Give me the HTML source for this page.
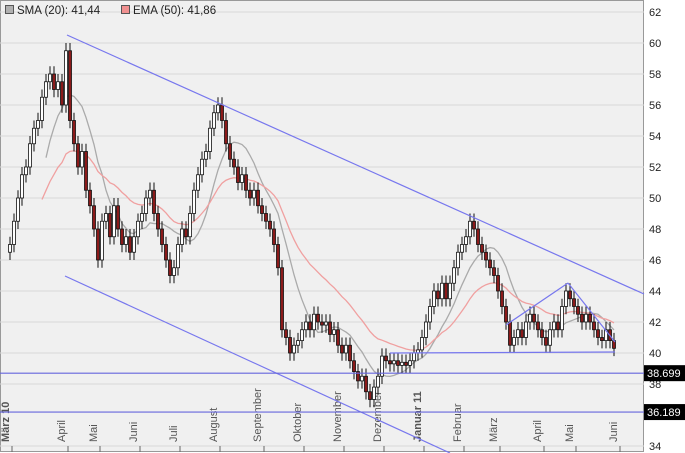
<!DOCTYPE html>
<html><head><meta charset="utf-8">
<style>
body{margin:0;background:#fff;font-family:"Liberation Sans",sans-serif;}
svg{display:block}
</style></head>
<body>
<svg id="chart" width="685" height="453" xmlns="http://www.w3.org/2000/svg" font-family="Liberation Sans, sans-serif">
<rect x="0" y="0" width="685" height="453" fill="#fff"/>
<rect x="0.5" y="0.5" width="643" height="451" fill="#f0f0f0" stroke="#999"/>
<g id="grid"></g><g id="xaxis"></g><g id="lines"></g><g id="candles"></g><g id="annot"></g><g id="yaxis"></g>
<g>
<rect x="5.5" y="5.5" width="8" height="8" fill="#b0b0b0" stroke="#555"/>
<text x="17" y="14" font-size="11.5" fill="#222">SMA (20): 41,44</text>
<rect x="121.5" y="5.5" width="8" height="8" fill="#f09090" stroke="#555"/>
<text x="133" y="14" font-size="11.5" fill="#222">EMA (50): 41,86</text>
</g>
</svg>
<script>
const closes=[47,48.5,50,51.5,52,53.5,54.5,55,56.5,57.5,58,57,57.5,56,59.5,55,53.5,52,53,50.5,49.5,48,46,48.5,49,47.5,49.5,48,47,47.5,46.5,47.5,48.5,49,50,50.5,49,48,47,46,45,45.5,47,48,47.5,49,50.5,51.5,52.5,53,54.5,55.5,56,55,53.5,52.5,52,51,51.5,50.5,50,50.5,49.5,49,48.5,48,47,45.5,41.5,41,40,40.5,40.8,41.5,42,41.5,42.5,42,41.8,42,41.2,41.5,40.5,40,40.5,39.5,38.8,38.2,38.5,37.5,37,37.8,38.5,39.8,39.5,39.3,39.5,39.2,39.4,39.2,39.5,40,40.2,41,42,43,44,43.5,44.5,43.5,44.5,45.5,46.5,47,47.5,48.5,48,47,46.5,46,45.5,45,44,43,42,40.5,41,41.5,41,42,42.5,42,41.5,41,40.5,41.5,42,41.5,43,44,43.5,43,42.5,42,42.5,42,41.5,41,40.8,41.5,40.8,40.3];
const firstOpen=46.5;
const monthLabels=["März 10","April","Mai","Juni","Juli","August","September","Oktober","November","Dezember","Januar 11","Februar","März","April","Mai","Juni"];
const monthIdx=[0,14,22,32,42,52,63,73,83,93,103,113,122,133,141,152];
const yTicks=[62,60,58,56,54,52,50,48,46,44,42,40,38,34];
const levels=[38.699,36.189];
const NS="http://www.w3.org/2000/svg";
const X=i=>10+i*4;
const Y=v=>12+(62-v)*15.5;
function mk(tag,attrs,parent){const e=document.createElementNS(NS,tag);for(const k in attrs)e.setAttribute(k,attrs[k]);parent.appendChild(e);return e;}
const g=id=>document.getElementById(id);
yTicks.forEach(v=>{
 const l=mk('line',{x1:0,x2:644,y1:Y(v),y2:Y(v),stroke:'#d8d8d8'},g('grid'));
 
 
 const t=mk('text',{x:649,y:Y(v)+4,'font-size':11,fill:'#222'},g('yaxis'));
 t.textContent=v;
 
 
});
monthLabels.forEach((m,k)=>{
 const x=X(monthIdx[k])+2;
 const tk=mk('line',{x1:x,x2:x,y1:446,y2:452,stroke:'#666'},g('xaxis'));
 
 
 const t=mk('text',{transform:`translate(${x-3},442) rotate(-90)`,'font-size':11,fill:'#555','font-weight':(k==0||k==10)?'bold':'normal'},g('xaxis'));
 t.textContent=m;
 
 
});
const smaP=10,emaP=25;
let sma=[],ema=[],e=closes[0];
closes.forEach((c,i)=>{e=i==0?c:e+(c-e)*2/(emaP+1);ema.push(e);
 if(i>=smaP-1){let s=0;for(let j=i-smaP+1;j<=i;j++)s+=closes[j];sma.push([i,s/smaP]);}});
const sp=mk('path',{d:'M'+sma.map(p=>X(p[0])+','+Y(p[1])).join('L'),fill:'none',stroke:'#aaa','stroke-width':1.3},g('lines'));


const ep=mk('path',{d:'M'+ema.map((v,i)=>X(i)+','+Y(v)).slice(8).join('L'),fill:'none',stroke:'#f0a0a0','stroke-width':1.3},g('lines'));


closes.forEach((c,i)=>{
 const o=i==0?firstOpen:closes[i-1];
 const hi=Math.max(o,c)+0.5,lo=Math.min(o,c)-0.5,up=c>=o,x=X(i);
 const w=mk('line',{x1:x,x2:x,y1:Y(hi),y2:Y(lo),stroke:'#111'},g('candles'));
 
 
 const b=mk('rect',{x:x-1.5,y:Y(Math.max(o,c)),width:3,height:Math.max(1,Math.abs(Y(o)-Y(c))),fill:up?'#fff':'#8b1a1a',stroke:'#111','stroke-width':0.8},g('candles'));
 
 
});
const tl=[[67,35,644,294],[65,276,450,453],[390,353,615,352],[506,325,568,283],[568,283,615,342]];
tl.forEach(s=>{const l=mk('line',{x1:s[0],y1:s[1],x2:s[2],y2:s[3],stroke:'#7777ee','stroke-width':1.2},g('annot'));
 
 });
levels.forEach(v=>{
 const l=mk('line',{x1:0,x2:644,y1:Y(v),y2:Y(v),stroke:'#6666dd','stroke-width':1.2},g('annot'));
 
 
 const r=mk('rect',{x:644,y:Y(v)-8,width:41,height:16,fill:'#000'},g('yaxis'));
 
 
 const t=mk('text',{x:647,y:Y(v)+4,'font-size':11,fill:'#fff'},g('yaxis'));
 t.textContent=v.toFixed(3);
 
 
});
</script>
</body></html>
